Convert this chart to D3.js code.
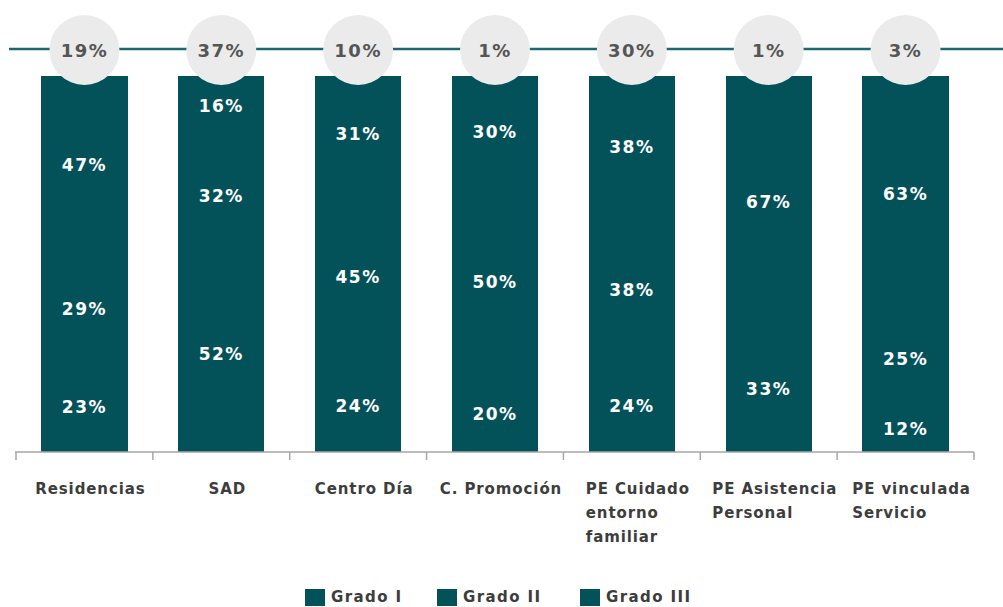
<!DOCTYPE html>
<html>
<head>
<meta charset="utf-8">
<script src="https://cdn.jsdelivr.net/npm/d3@7"></script>
<style>
  html, body { margin: 0; padding: 0; background: #fff; overflow: hidden; }
  svg { display: block; font-family: "DejaVu Sans", sans-serif; font-weight: bold; }
</style>
</head>
<body>
<div id="chart"></div>
<script>
const categories = ["Residencias", "SAD", "Centro Día", "C. Promoción", "PE Cuidado entorno familiar", "PE Asistencia Personal", "PE vinculada Servicio"];
const categoryLines = [["Residencias"], ["SAD"], ["Centro Día"], ["C. Promoción"], ["PE Cuidado", "entorno", "familiar"], ["PE Asistencia", "Personal"], ["PE vinculada", "Servicio"]];
const gradoI = [23, 52, 24, 20, 24, 33, 12];
const gradoII = [29, 32, 45, 50, 38, 0, 25];
const gradoIII = [47, 16, 31, 30, 38, 67, 63];
const share = [19, 37, 10, 1, 30, 1, 3];
const seriesNames = ["Grado I", "Grado II", "Grado III"];

const width = 1003, height = 607;
const barColor = '#03525a';

const svg = d3.select('#chart').append('svg')
    .attr('width', width)
    .attr('height', height);

let rows = categories.map((c, i) => ({
    cat: c,
    "Grado I": gradoI[i],
    "Grado II": gradoII[i],
    "Grado III": gradoIII[i]
}));

let stacked = d3.stack()
    .keys(seriesNames)
    .offset(d3.stackOffsetExpand)(rows);

let x = d3.scaleBand()
    .domain(categories)
    .range([16, 974])
    .paddingInner(0.37)
    .paddingOuter(0.185);

let y = d3.scaleLinear()
    .domain([0, 1])
    .range([451, 76]);

// bars (all grades share the same colour)
let layers = svg.append('g').selectAll('g')
    .data(stacked)
    .join('g')
    .attr('fill', barColor)
    .attr('shape-rendering', 'crispEdges');

layers.selectAll('rect')
    .data(d => d)
    .join('rect')
    .attr('x', d => x(d.data.cat))
    .attr('width', x.bandwidth())
    .attr('y', d => y(d[1]))
    .attr('height', d => y(d[0]) - y(d[1]) + 0.5);

// segment labels
layers.each(function (s) {
    d3.select(this).selectAll('text')
        .data(s.filter(d => d.data[s.key] > 0))
        .join('text')
        .attr('x', d => x(d.data.cat) + x.bandwidth() / 2)
        .attr('y', d => (y(d[0]) + y(d[1])) / 2)
        .attr('text-anchor', 'middle')
        .attr('dominant-baseline', 'central')
        .attr('fill', '#fff')
        .attr('font-size', 17)
        .attr('letter-spacing', 1.5)
        .text(d => d.data[s.key] + '%');
});

// axis with ticks at band boundaries
let axisG = svg.append('g').attr('stroke', '#a6a6a6').attr('stroke-width', 1.5);
axisG.append('line')
    .attr('x1', x.range()[0] - 1).attr('x2', x.range()[1])
    .attr('y1', 452).attr('y2', 452);
let bounds = categories.map(c => x(c) + x.bandwidth() / 2 - x.step() / 2);
bounds.push(x.range()[1]);
axisG.selectAll('.tick')
    .data(bounds)
    .join('line')
    .attr('x1', d => d).attr('x2', d => d)
    .attr('y1', 452).attr('y2', 460);

// category labels, lines left-aligned inside a centred block
categories.forEach((c, i) => {
    let t = svg.append('text')
        .attr('fill', '#3d3d3d')
        .attr('font-size', 15)
        .attr('letter-spacing', 0.9)
        .attr('y', 494);
    t.selectAll('tspan')
        .data(categoryLines[i])
        .join('tspan')
        .attr('x', 0)
        .attr('dy', (d, j) => j === 0 ? 0 : 24)
        .text(d => d);
    let w = t.node().getBBox().width;
    let left = x(c) + x.bandwidth() / 2 + 6 - w / 2;
    t.selectAll('tspan').attr('x', left);
});

// top line with share circles
svg.append('line')
    .attr('x1', 9).attr('x2', width)
    .attr('y1', 49).attr('y2', 49)
    .attr('stroke', '#1d6770')
    .attr('stroke-width', 2.5);

let circles = svg.append('g').selectAll('g')
    .data(categories)
    .join('g')
    .attr('transform', d => `translate(${x(d) + x.bandwidth() / 2}, 50)`);
circles.append('circle')
    .attr('r', 35)
    .attr('fill', '#ebebeb');
circles.append('text')
    .attr('text-anchor', 'middle')
    .attr('dominant-baseline', 'central')
    .attr('fill', '#555')
    .attr('font-size', 18)
    .attr('letter-spacing', 1.5)
    .text((d, i) => share[i] + '%');

// legend
let legendX = [305, 437, 580];
let legend = svg.append('g').selectAll('g')
    .data(seriesNames)
    .join('g')
    .attr('transform', (d, i) => `translate(${legendX[i]}, 589)`);
legend.append('rect')
    .attr('width', 20).attr('height', 17)
    .attr('fill', barColor);
legend.append('text')
    .attr('x', 26).attr('y', 13)
    .attr('fill', '#3d3d3d')
    .attr('font-size', 15)
    .attr('letter-spacing', 1.4)
    .text(d => d);
</script>
</body>
</html>
